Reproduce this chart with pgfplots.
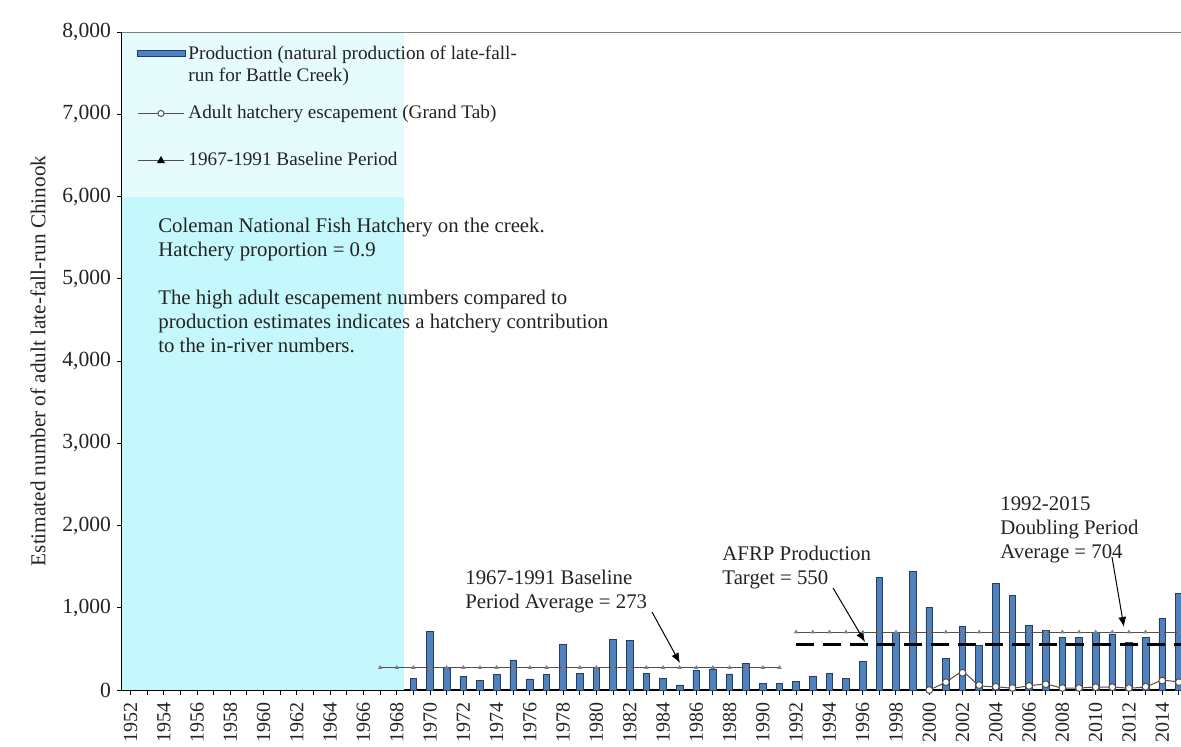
\documentclass[border=0pt]{standalone}
\usepackage{fontspec}
\setmainfont{Liberation Serif}
\usepackage{pgfplots}
\usepackage{pgfplotstable}
\pgfplotsset{compat=1.18}
\usetikzlibrary{arrows.meta}
\definecolor{barblue}{RGB}{79,129,189}
\definecolor{baredge}{RGB}{38,60,98}
\definecolor{cyanbg}{RGB}{196,248,252}
\definecolor{cyanlt}{RGB}{230,251,252}
\definecolor{linegray}{RGB}{80,80,80}
\definecolor{txt}{RGB}{35,35,35}

\pgfplotstableread{
year value
1969 142
1970 712
1971 263
1972 162
1973 113
1974 190
1975 365
1976 134
1977 190
1978 559
1979 203
1980 263
1981 620
1982 600
1983 203
1984 142
1985 61
1986 243
1987 255
1988 195
1989 320
1990 80
1991 80
1992 101
1993 170
1994 203
1995 138
1996 345
1997 1374
1998 697
1999 1439
2000 1009
2001 385
2002 770
2003 547
2004 1293
2005 1151
2006 790
2007 725
2008 644
2009 644
2010 697
2011 677
2012 575
2013 636
2014 867
2015 1175
}\production

\pgfplotstableread{
year value
2000 0
2001 95
2002 210
2003 60
2004 40
2005 25
2006 50
2007 70
2008 25
2009 25
2010 35
2011 35
2012 25
2013 40
2014 115
2015 95
}\hatchery

\begin{document}
\begin{tikzpicture}
\useasboundingbox (-61pt,-28pt) rectangle (529.5pt,345pt);
\begin{axis}[
  at={(0pt,0pt)}, anchor=south west,
  scale only axis, width=529.5pt, height=329pt,
  xmin=1951.489, xmax=2015.13, ymin=0, ymax=8000,
  axis x line*=bottom, axis y line*=left,
  axis line style={black, line width=1.1pt},
  tick align=outside, major tick length=2.5pt, minor tick length=2.5pt,
  xtick={1952,1954,...,2014}, minor xtick={1953,1955,...,2015},
  ytick={0,1000,...,8000},
  tick style={black, line width=0.5pt},
  scaled y ticks=false,
  tick label style={text=txt, /pgf/number format/assume math mode=true},
  x tick label style={rotate=90, anchor=east, font=\fontsize{10}{11}\selectfont, /pgf/number format/1000 sep={}},
  y tick label style={font=\fontsize{10.8}{12}\selectfont, xshift=0.5pt, /pgf/number format/1000 sep={,}},
  ylabel={Estimated number of adult late-fall-run Chinook},
  every axis y label/.style={at={(axis description cs:-0.0793,0.5)}, rotate=90, anchor=center, font=\fontsize{10.6}{12}\selectfont, text=txt},
  clip=true,
  legend cell align=left,
  legend style={at={(axis cs:1952.39,7860)}, anchor=north west, draw=none, fill=none,
    inner sep=0pt, row sep=3.5pt, font=\fontsize{9.6}{11}\selectfont, text=txt,
    cells={align=left}, nodes={minimum height=20pt, inner sep=1pt}},
]
% shaded regions
\addplot[draw=none, fill=cyanbg, forget plot] coordinates {(1951.4,0) (1951.4,6000) (1968.42,6000) (1968.42,0)} -- cycle;
\addplot[draw=none, fill=cyanlt, forget plot] coordinates {(1951.4,6000) (1951.4,8000) (1968.42,8000) (1968.42,6000)} -- cycle;

% bars
\addplot[ybar, bar width=0.4, fill=barblue, draw=baredge, line width=0.4pt,
  legend image code/.code={\draw[fill=barblue, draw=baredge, line width=0.5pt] (0pt,4.5pt) rectangle (24pt,7.5pt);}]
  table[x=year, y=value] {\production};
\addlegendentry{Production (natural production of late-fall-\\run for Battle Creek)}

% hatchery escapement
\addplot[linegray, line width=0.5pt, smooth, mark=*, mark size=1.7pt,
  mark options={fill=white, draw=linegray, line width=0.5pt},
  legend image code/.code={\draw[linegray, line width=0.5pt] (0pt,0pt) -- (23pt,0pt);
     \draw[linegray, fill=white, line width=0.5pt] (11.5pt,0pt) circle (1.5pt);}]
  table[x=year, y=value] {\hatchery};
\addlegendentry{Adult hatchery escapement (Grand Tab)}

% baseline period average
\addplot[linegray, line width=0.6pt, mark=triangle*, mark size=0.7pt, mark options={gray},
  legend image code/.code={\draw[linegray, line width=0.6pt] (0pt,0pt) -- (23pt,0pt);
     \fill[black] (10pt,-1pt) -- (13pt,-1pt) -- (11.5pt,1.6pt) -- cycle;}]
  coordinates {(1967,273) (1968,273) (1969,273) (1970,273) (1971,273) (1972,273) (1973,273)
  (1974,273) (1975,273) (1976,273) (1977,273) (1978,273) (1979,273) (1980,273) (1981,273)
  (1982,273) (1983,273) (1984,273) (1985,273) (1986,273) (1987,273) (1988,273) (1989,273)
  (1990,273) (1991,273)};
\addlegendentry{1967-1991 Baseline Period}

% doubling period average
\addplot[linegray, line width=0.6pt, mark=triangle*, mark size=0.7pt, mark options={gray}, forget plot]
  coordinates {(1992,704) (1993,704) (1994,704) (1995,704) (1996,704) (1997,704) (1998,704)
  (1999,704) (2000,704) (2001,704) (2002,704) (2003,704) (2004,704) (2005,704) (2006,704)
  (2007,704) (2008,704) (2009,704) (2010,704) (2011,704) (2012,704) (2013,704) (2014,704)
  (2015,704)};

% AFRP target
\addplot[black, line width=1.35pt, dash pattern=on 9pt off 4.5pt, forget plot]
  coordinates {(1992,550) (2015.2,550)};

% annotations
\node[anchor=north west, align=left, inner sep=0pt, font=\fontsize{10.4}{12}\selectfont, text=txt]
  at (axis cs:1953.65,5739) {Coleman National Fish Hatchery on the creek.\\Hatchery proportion = 0.9\\[12pt]
  The high adult escapement numbers compared to\\production estimates indicates a hatchery contribution\\to the in-river numbers.};
\node[anchor=north west, align=left, inner sep=0pt, font=\fontsize{10.4}{12}\selectfont, text=txt]
  at (axis cs:1972.10,1459) {1967-1991 Baseline\\Period Average = 273};
\node[anchor=north west, align=left, inner sep=0pt, font=\fontsize{10.4}{12}\selectfont, text=txt]
  at (axis cs:1987.55,1751) {AFRP Production\\Target = 550};
\node[anchor=north west, align=left, inner sep=0pt, font=\fontsize{10.4}{12}\selectfont, text=txt]
  at (axis cs:2004.25,2359) {1992-2015\\Doubling Period\\Average = 704};
\draw[-{Latex[length=5pt,width=4pt]}, black, line width=0.5pt] (axis cs:1983.34,948) -- (axis cs:1985.02,328);
\draw[-{Latex[length=5pt,width=4pt]}, black, line width=0.5pt] (axis cs:1994.22,1240) -- (axis cs:1996.14,584);
\draw[-{Latex[length=5pt,width=4pt]}, black, line width=0.5pt] (axis cs:2010.98,1617) -- (axis cs:2011.70,766);

% top border
\draw[gray, line width=1pt] (rel axis cs:0,1) -- (rel axis cs:1,1);
\end{axis}
\end{tikzpicture}
\end{document}
